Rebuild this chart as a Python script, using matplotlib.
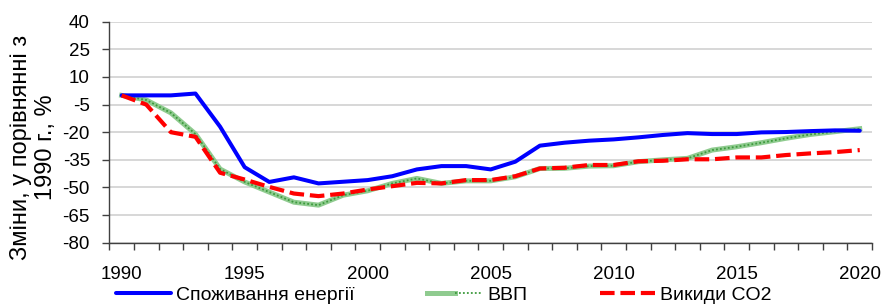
import numpy as np
import matplotlib
matplotlib.use("Agg")
import matplotlib.pyplot as plt
from matplotlib.legend_handler import HandlerTuple

plt.rcParams['font.family'] = ['Liberation Sans', 'DejaVu Sans']
plt.rcParams['axes.unicode_minus'] = False

years = list(range(1990, 2021))
energy = [0, 0, 0, 1, -17, -39, -47, -44.5, -47.8, -46.9, -46, -43.9, -40.2, -38.4, -38.4,
          -40.2, -36, -27.3, -25.7, -24.6, -23.9, -22.8, -21.5, -20.5, -21, -21, -20.1,
          -19.9, -19.4, -19, -19.2]
gdp = [0, -2.5, -9.5, -21, -40, -47, -52.5, -58, -59.6, -54.2, -51.8, -47.8, -45.1, -47.8,
       -46.4, -46.4, -44.2, -39.7, -39.6, -38.4, -38.2, -36, -35, -34.2, -29.7, -27.9,
       -25.7, -23.3, -21.2, -19.7, -18.1]
co2 = [0, -5, -20, -22.5, -42, -45.7, -49.7, -53.3, -54.7, -53.3, -51.1, -49.3, -47.5,
       -47.8, -46, -46, -43.9, -39.7, -39.3, -37.8, -37.8, -35.8, -35.5, -34.7, -34.7,
       -33.7, -33.7, -32.4, -31.5, -30.8, -29.7]
labels = ["Споживання енергії", "ВВП", "Викиди CO2"]
ylabel = "Зміни, у порівнянні з\n1990 г., %"
yticks = [40, 25, 10, -5, -20, -35, -50, -65, -80]

fig = plt.figure(figsize=(8.82, 3.04), dpi=100)
ax = fig.add_axes([0.124, 0.2016, 0.8647, 0.727])

x = np.arange(len(years))
for yv in yticks:
    ax.axhline(yv, color='#d4d4d4', lw=1.3, zorder=0)

l1, = ax.plot(x, energy, color='#0000ff', lw=2.9, solid_joinstyle='round',
              solid_capstyle='round', zorder=3)
g1, = ax.plot(x, gdp, color='#8fcb8f', lw=3.6, solid_joinstyle='round', zorder=2)
g2, = ax.plot(x, gdp, color='#3d9a3d', lw=1.3, ls=(0, (1, 1.2)), zorder=2)
r1, = ax.plot(x, co2, color='#ff0000', lw=3.0, ls=(0, (3.5, 1.4)), zorder=4)

ax.set_xlim(-0.5, len(years) - 0.5)
ax.set_ylim(-80, 40)
ax.set_yticks(yticks)
ax.tick_params(axis='y', labelsize=13.5, length=5, width=1, pad=9, colors='black')

major = [i for i, y in enumerate(years) if y % 5 == 0]
ax.set_xticks(major)
ax.set_xticklabels([str(years[i]) for i in major])
ax.set_xticks(np.arange(-0.5, len(years) + 0.5, 1), minor=True)
ax.tick_params(axis='x', which='major', length=0, labelsize=13.5, pad=17)
ax.tick_params(axis='x', which='minor', length=5, width=1, color='#404040')
ax.tick_params(axis='y', color='#404040')

for s in ['top', 'right']:
    ax.spines[s].set_visible(False)
for s in ['left', 'bottom']:
    ax.spines[s].set_color('#404040')
    ax.spines[s].set_linewidth(1)

fig.text(0.038, 0.516, ylabel, rotation=90, ha='center', va='center',
         multialignment='center', fontsize=17, linespacing=1.15)

fig.legend([l1, (g1, g2), r1], labels, loc='center', bbox_to_anchor=(0.503, 0.03),
           ncol=3, frameon=False, fontsize=14, handlelength=2.83, handletextpad=0.26,
           columnspacing=3.75, borderaxespad=0, borderpad=0,
           handler_map={tuple: HandlerTuple(ndivide=None, pad=0)})

fig.savefig('out.png', dpi=100)
